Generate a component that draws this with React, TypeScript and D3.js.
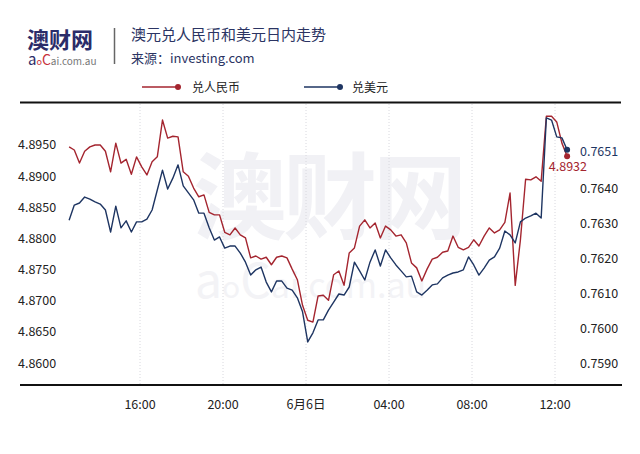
import React from 'react';
import * as d3 from 'd3';

const W = 640;
const H = 454;

const startTime = new Date(2019, 5, 5, 12, 35);
const stepMinutes = 15;

const cnyValues = [
  4.8947, 4.8942, 4.8921, 4.8940, 4.8947, 4.8950, 4.8950, 4.8940, 4.8907, 4.8953,
  4.8921, 4.8927, 4.8903, 4.8931, 4.8915, 4.8902, 4.8923, 4.8931, 4.8990, 4.8961,
  4.8964, 4.8963, 4.8907, 4.8900, 4.8881, 4.8867, 4.8870, 4.8842, 4.8838, 4.8838,
  4.8810, 4.8806, 4.8817, 4.8806, 4.8801, 4.8769, 4.8772, 4.8767, 4.8770, 4.8758,
  4.8770, 4.8772, 4.8769, 4.8751, 4.8734, 4.8693, 4.8669, 4.8666, 4.8708, 4.8709,
  4.8701, 4.8742, 4.8748, 4.8725, 4.8777, 4.8785, 4.8820, 4.8830, 4.8817, 4.8825,
  4.8801, 4.8820, 4.8814, 4.8804, 4.8806, 4.8793, 4.8761, 4.8753, 4.8732, 4.8751,
  4.8767, 4.8770, 4.8778, 4.8780, 4.8804, 4.8786, 4.8782, 4.8786, 4.8798, 4.8788,
  4.8804, 4.8817, 4.8809, 4.8814, 4.8826, 4.8873, 4.8725, 4.8798, 4.8895, 4.8894,
  4.8899, 4.8892, 4.8996, 4.8996, 4.8987, 4.8953, 4.8932,
];

const usdValues = [
  0.76309, 0.76352, 0.76358, 0.76375, 0.76369, 0.76361, 0.76355, 0.76338, 0.76275, 0.76349,
  0.76287, 0.76307, 0.76275, 0.76304, 0.76304, 0.76312, 0.76338, 0.76395, 0.76452, 0.76398,
  0.76429, 0.76467, 0.76407, 0.76387, 0.76367, 0.76329, 0.76329, 0.76287, 0.76252, 0.76261,
  0.76229, 0.76235, 0.76235, 0.76215, 0.76189, 0.76152, 0.76167, 0.76175, 0.76132, 0.76104,
  0.76135, 0.76135, 0.76115, 0.76109, 0.76087, 0.76047, 0.75961, 0.75987, 0.76024, 0.76024,
  0.76052, 0.76075, 0.76098, 0.76095, 0.76118, 0.76189, 0.76164, 0.76138, 0.76189, 0.76224,
  0.76178, 0.76224, 0.76201, 0.76181, 0.76164, 0.76147, 0.76149, 0.76104, 0.76095, 0.76109,
  0.76124, 0.76127, 0.76144, 0.76152, 0.76158, 0.76161, 0.76167, 0.76204, 0.76181, 0.76152,
  0.76172, 0.76195, 0.76204, 0.76229, 0.76278, 0.76267, 0.76244, 0.76304, 0.76315, 0.76321,
  0.76329, 0.76315, 0.76601, 0.76595, 0.76547, 0.76544, 0.7651,
];

const leftTicks = [4.86, 4.865, 4.87, 4.875, 4.88, 4.885, 4.89, 4.895];
const rightTicks = [0.759, 0.76, 0.761, 0.762, 0.763, 0.764];
const timeTicks = [
  new Date(2019, 5, 5, 16), new Date(2019, 5, 5, 20), new Date(2019, 5, 6, 0),
  new Date(2019, 5, 6, 4), new Date(2019, 5, 6, 8), new Date(2019, 5, 6, 12),
];
const timeTickLabels = ['16:00', '20:00', '6月6日', '04:00', '08:00', '12:00'];
const seriesNames = ['兑人民币', '兑美元'];
const titleText = '澳元兑人民币和美元日内走势';
const sourceText = '来源：investing.com';

const RED = '#a4252f';
const BLUE = '#1e3562';
const FONT = '"Noto Sans CJK SC", "Noto Sans", sans-serif';

export default function App() {
  const x = d3.scaleTime()
    .domain([new Date(2019, 5, 5, 16), new Date(2019, 5, 6, 12)])
    .range([140, 555]);
  const yL = d3.scaleLinear().domain([4.86, 4.895]).range([363.3, 145]);
  const yR = d3.scaleLinear().domain([0.759, 0.764]).range([363.3, 188.3]);
  const times = cnyValues.map((_, i) => new Date(startTime.getTime() + i * stepMinutes * 60000));

  const lineL = d3.line<number>().x((_, i) => x(times[i])).y((d) => yL(d));
  const lineR = d3.line<number>().x((_, i) => x(times[i])).y((d) => yR(d));

  const n = cnyValues.length - 1;
  const lastT = times[n];
  const lastCny = cnyValues[n];
  const lastUsd = usdValues[n];

  return (
    <svg width={W} height={H} style={{ position: 'absolute', left: 0, top: 0, background: '#fff' }} fontFamily={FONT}>
      <rect width={W} height={H} fill="#fff" />
      {/* watermark */}
      <text x={193} y={232} fontSize={94} fontWeight={700} fill="#f1f1f5" letterSpacing={-4}>澳财网</text>
      <text x={195} y={298} fill="#f3f3f6" fontFamily={FONT}>
        <tspan fontSize={48}>a</tspan>
        <tspan fontSize={30}>o</tspan>
        <tspan fontSize={48}>C</tspan>
        <tspan fontSize={34}>ai.com.au</tspan>
      </text>

      {/* logo */}
      <text x={27} y={48} fontSize={22} fontWeight={700} fill="#2b2c69">澳财网</text>
      <text x={28} y={65}>
        <tspan fontSize={15} fill="#2b2c69">a</tspan>
        <tspan fontSize={9} fill="#c8303a">o</tspan>
        <tspan fontSize={14} fill="#c8303a">C</tspan>
        <tspan fontSize={10} fill="#777">ai.com.au</tspan>
      </text>
      <line x1={114.5} x2={114.5} y1={28} y2={64} stroke="#666" strokeWidth={1.5} />
      <text x={131} y={40} fontSize={15} fill="#2b3463">{titleText}</text>
      <text x={131} y={63} fontSize={13} fill="#2b3463">{sourceText}</text>

      {/* legend */}
      <line x1={142} x2={178} y1={87} y2={87} stroke={RED} strokeWidth={1.5} />
      <circle cx={178} cy={87} r={3} fill={RED} />
      <text x={192} y={91.5} fontSize={12} fill="#222">{seriesNames[0]}</text>
      <line x1={304} x2={340} y1={87} y2={87} stroke={BLUE} strokeWidth={1.5} />
      <circle cx={340} cy={87} r={3} fill={BLUE} />
      <text x={352} y={91.5} fontSize={12} fill="#222">{seriesNames[1]}</text>

      {/* frame lines */}
      <line x1={20} x2={621} y1={102.5} y2={102.5} stroke="#111" strokeWidth={2} />

      {/* grid */}
      {timeTicks.map((t, i) => (
        <line key={'g' + i} x1={x(t)} x2={x(t)} y1={104} y2={384} stroke="#d8d8de" strokeWidth={1} strokeDasharray="1,2" />
      ))}

      {/* left ticks */}
      {leftTicks.map((v) => (
        <text key={'l' + v} x={18} y={yL(v)} dy="0.35em" fontSize={12.5} fill="#222">{v.toFixed(4)}</text>
      ))}
      {/* right ticks */}
      {rightTicks.map((v) => (
        <text key={'r' + v} x={580} y={yR(v)} dy="0.35em" fontSize={12.5} fill="#222">{v.toFixed(4)}</text>
      ))}

      {/* series */}
      <path d={lineL(cnyValues) || ''} fill="none" stroke={RED} strokeWidth={1.4} strokeLinejoin="round" />
      <path d={lineR(usdValues) || ''} fill="none" stroke={BLUE} strokeWidth={1.4} strokeLinejoin="round" />
      <circle cx={x(lastT)} cy={yL(lastCny)} r={3} fill={RED} />
      <circle cx={x(lastT)} cy={yR(lastUsd)} r={3} fill={BLUE} />
      <text x={580} y={yR(lastUsd) + 2} dy="0.35em" fontSize={12.5} fill={BLUE}>{lastUsd.toFixed(4)}</text>
      <text x={587} y={yL(lastCny) + 10} dy="0.35em" fontSize={12.5} fill={RED} textAnchor="end">{lastCny.toFixed(4)}</text>

      {/* bottom axis */}
      <line x1={20} x2={622} y1={385} y2={385} stroke="#111" strokeWidth={2} />
      {timeTicks.map((t, i) => (
        <text key={'t' + i} x={x(t)} y={405} dy="0.35em" fontSize={12.5} fill="#222" textAnchor="middle">{timeTickLabels[i]}</text>
      ))}
    </svg>
  );
}
